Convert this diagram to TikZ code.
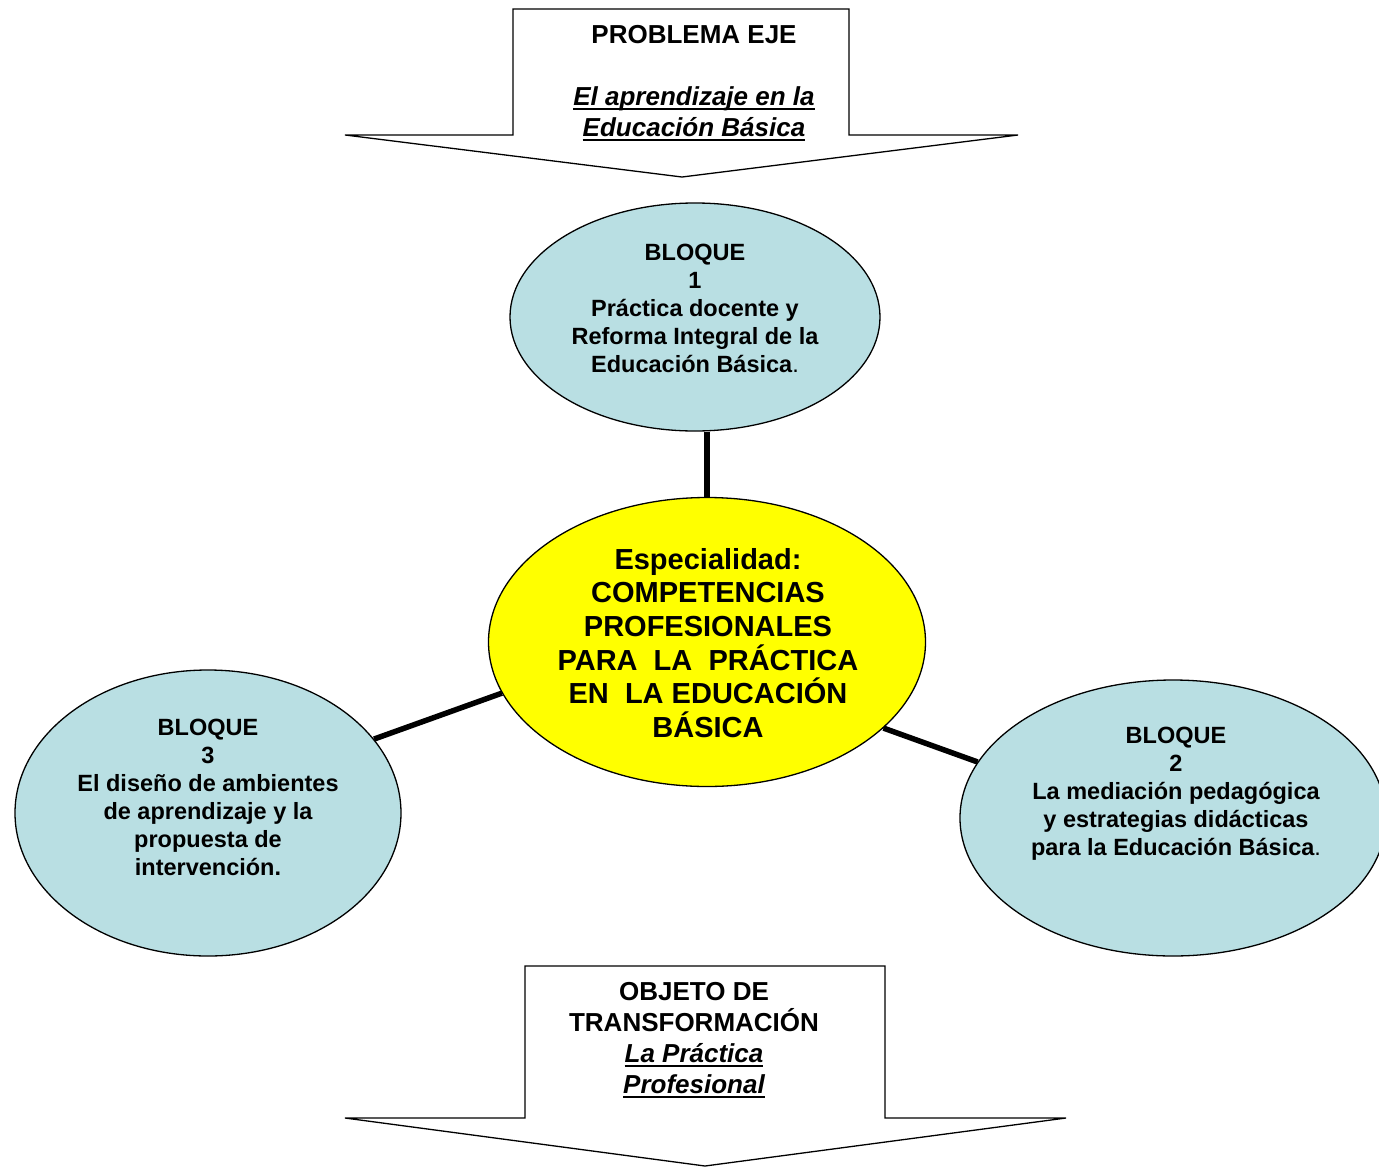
\documentclass[tikz,border=0pt]{standalone}
\usepackage{fontspec}
\setmainfont{Liberation Sans}
\definecolor{bloqueblue}{RGB}{185,223,227}
\definecolor{centeryellow}{RGB}{255,255,0}
\newsavebox{\uibox}
\newcommand{\ui}[1]{\leavevmode\sbox{\uibox}{\itshape #1}\rlap{\vrule height -3pt depth 5pt width \wd\uibox}\usebox{\uibox}}
\usetikzlibrary{shapes.geometric}
\tikzset{
  bloque/.style={ellipse, draw=black, line width=1.3pt, fill=bloqueblue, inner sep=0pt},
  centro/.style={ellipse, draw=black, line width=1.3pt, fill=centeryellow, inner sep=0pt},
  flecha/.style={draw=black, line width=1.3pt, fill=white, line join=miter},
  conector/.style={line width=5.5pt},
  txtb/.style={align=center, inner sep=0pt, font=\fontsize{23.5}{28}\selectfont\bfseries},
  txtc/.style={align=center, inner sep=0pt, font=\fontsize{29}{33.6}\selectfont\bfseries},
  txta/.style={align=center, inner sep=0pt, font=\fontsize{26}{31}\selectfont\bfseries}
}
\begin{document}
\begin{tikzpicture}[x=1pt,y=-1pt]
\useasboundingbox (0,0) rectangle (1379,1167);
% top arrow
\draw[flecha] (513,9) -- (849,9) -- (849,135) -- (1018,135) -- (682,177) -- (345,135) -- (513,135) -- cycle;
\node[txta] (arr1) at (694,83) {PROBLEMA EJE\\[31pt]\ui{El aprendizaje en la}\\\ui{Educación Básica}};
% bottom arrow
\draw[flecha] (525,966) -- (885,966) -- (885,1118) -- (1066,1118) -- (705,1166) -- (345,1118) -- (525,1118) -- cycle;
\node[txta] (arr2) at (694,1040) {OBJETO DE\\TRANSFORMACIÓN\\\ui{La Práctica}\\\ui{Profesional}};
% ellipses
\node[bloque, minimum width=370pt, minimum height=228pt] (b1) at (695,317) {};
\node[centro, minimum width=437pt, minimum height=289pt] (c) at (707,642) {};
\node[bloque, minimum width=386pt, minimum height=286pt] (b3) at (208,813) {};
\node[bloque, minimum width=426pt, minimum height=276pt] (b2) at (1173,818) {};
% connectors
\draw[conector] (c.north) -- (c.north |- b1.south);
\draw[conector] (b3.24) -- (c.194);
\draw[conector] (c.-26) -- (b2.164);
% texts
\node[txtb] (t1) at (695,308) {BLOQUE\\1\\Práctica docente y\\Reforma Integral de la\\Educación Básica{\mdseries.}};
\node[txtc] (tc) at (708,643) {Especialidad:\\COMPETENCIAS\\PROFESIONALES\\PARA\ \ LA\ \ PRÁCTICA\\EN\ \ LA EDUCACIÓN\\BÁSICA};
\node[txtb] (t3) at (208,797) {BLOQUE\\3\\El diseño de ambientes\\de aprendizaje y la\\propuesta de\\intervención.};
\node[txtb] (t2) at (1176,794) {BLOQUE\\2\\La mediación pedagógica\\y estrategias didácticas\\para la Educación Básica{\mdseries.}};
\end{tikzpicture}
\end{document}
